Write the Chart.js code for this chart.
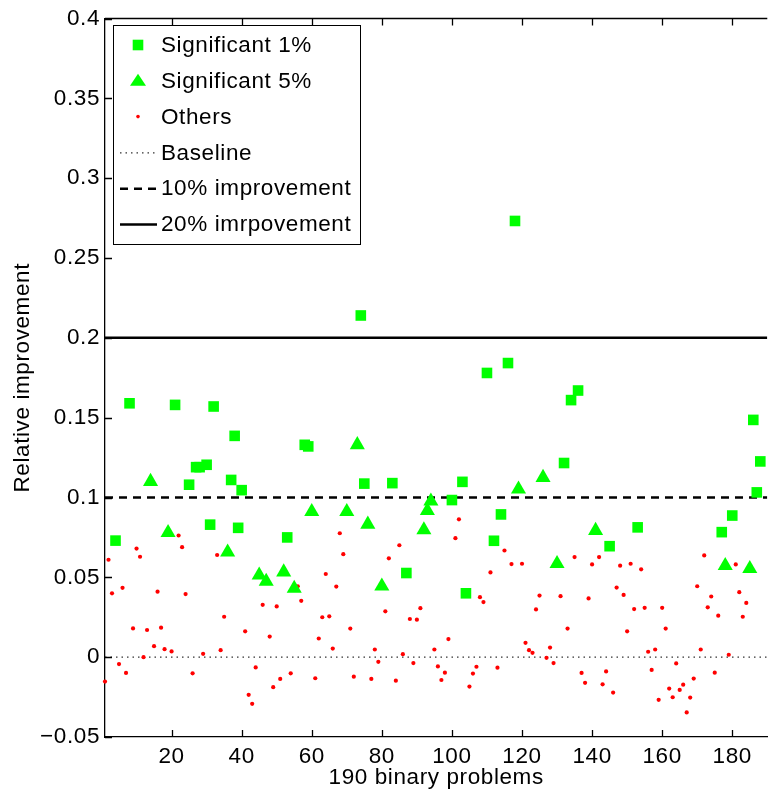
<!DOCTYPE html>
<html>
<head>
<meta charset="utf-8">
<script src="https://cdn.jsdelivr.net/npm/chart.js@4"></script>
<style>
  html, body { margin: 0; padding: 0; background: #fff; overflow: hidden; }
  canvas { display: block; }
</style>
</head>
<body>
<canvas id="myChart" width="776" height="794"></canvas>
<script>
// problems significant at the 1% level (squares)
const sig1Idx = [4, 8, 21, 25, 27, 28, 30, 31, 32, 37, 38, 39, 40, 53, 58, 59, 74, 75, 83, 87,
  100, 103, 104, 110, 112, 114, 116, 118, 132, 134, 136, 145, 153, 177, 180, 186, 187, 188];
const sig1Val = [0.073, 0.159, 0.158, 0.108, 0.119, 0.119, 0.1205, 0.083, 0.157, 0.111, 0.1386, 0.081, 0.1046, 0.075, 0.133, 0.132, 0.214, 0.1087, 0.109, 0.0527,
  0.0984, 0.1098, 0.040, 0.178, 0.0729, 0.0894, 0.1842, 0.2732, 0.1216, 0.161, 0.167, 0.0695, 0.0813, 0.0783, 0.0887, 0.1486, 0.1032, 0.1226];

// problems significant at the 5% level (triangles)
const sig5Idx = [14, 19, 36, 45, 47, 52, 55, 60, 70, 73, 76, 80, 92, 93, 94, 119, 126, 130, 141, 178, 185];
const sig5Val = [0.110, 0.078, 0.0658, 0.0513, 0.0475, 0.0533, 0.043, 0.0911, 0.0911, 0.133, 0.0832, 0.0444, 0.0797, 0.0917, 0.0977, 0.1052, 0.1125, 0.0585, 0.0793, 0.0573, 0.0554];

// everything else (red dots)
const othersIdx = [1, 2, 3, 5, 6, 7, 9, 10, 11, 12, 13, 15, 16, 17, 18, 20, 22, 23, 24, 26, 29, 33, 34, 35,
  41, 42, 43, 44, 46, 48, 49, 50, 51, 54, 56, 57, 61, 62, 63, 64, 65, 66, 67, 68, 69, 71, 72,
  77, 78, 79, 81, 82, 84, 85, 86, 88, 89, 90, 91, 95, 96, 97, 98, 99, 101, 102, 105, 106, 107, 108, 109,
  111, 113, 115, 117, 120, 121, 122, 123, 124, 125, 127, 128, 129, 131, 133, 135, 137, 138, 139, 140,
  142, 143, 144, 146, 147, 148, 149, 150, 151, 152, 154, 155, 156, 157, 158, 159, 160, 161, 162, 163,
  164, 165, 166, 167, 168, 169, 170, 171, 172, 173, 174, 175, 176, 179, 181, 182, 183, 184];
const othersVal = [-0.0153, 0.061, 0.040, -0.0043, 0.0434, -0.0099, 0.018, 0.068, 0.0629, 0.000, 0.017, 0.0069, 0.041, 0.0185, 0.005, 0.0036, 0.0762, 0.0689, 0.0395, -0.0101, 0.0021, 0.064, 0.0044, 0.0253,
  0.0162, -0.0236, -0.0292, -0.0064, 0.0328, 0.0129, -0.0188, 0.0318, -0.0136, -0.0101, 0.0444, 0.0353, -0.0132, 0.0117, 0.025, 0.0521, 0.0256, 0.0054, 0.0442, 0.0776, 0.0645, 0.0179, -0.0122,
  -0.0136, 0.0048, -0.0029, 0.0287, 0.0619, -0.0147, 0.0701, 0.0019, 0.0239, -0.0037, 0.0235, 0.0307, 0.0048, -0.0058, -0.0143, -0.0097, 0.0113, 0.0745, 0.0863, -0.0184, -0.0103, -0.006, 0.0376, 0.0345,
  0.0531, -0.0066, 0.0668, 0.0583, 0.0585, 0.009, 0.0044, 0.0027, 0.0299, 0.0386, -0.0004, 0.006, -0.0037, 0.0382, 0.0179, 0.0627, -0.0099, -0.0161, 0.0368, 0.0581,
  0.0627, -0.017, -0.0089, -0.0222, 0.0436, 0.0573, 0.039, 0.0162, 0.0585, 0.0301, 0.055, 0.0309, 0.0034, -0.008, 0.0048, -0.0267, 0.0309, 0.0179, -0.0197, -0.0251,
  -0.0039, -0.0205, -0.0172, -0.0346, -0.0253, -0.0134, 0.0444, 0.0048, 0.0637, 0.0312, 0.038, -0.0097, 0.026, 0.0015, 0.0581, 0.0407, 0.0253, 0.034];

// reference lines
const xRange = [1, 190];
const baselineLevel = 0;
const tenPctLevel = 0.1;
const twentyPctLevel = 0.2;

const xTicks = [20, 40, 60, 80, 100, 120, 140, 160, 180];
const yTicks = [-0.05, 0, 0.05, 0.1, 0.15, 0.2, 0.25, 0.3, 0.35, 0.4];

const legendLabels = ["Significant 1%", "Significant 5%", "Others", "Baseline", "10% improvement", "20% imrpovement"];

const GREEN = "#00ff00";
const RED = "#ff0000";
const FONT = '"Liberation Sans", Arial, sans-serif';

function toPoints(idx, vals) {
  return idx.map((x, i) => ({ x: x, y: vals[i] }));
}
function hLine(level) {
  return xRange.map((x) => ({ x: x, y: level }));
}

// matlab style: box on top, ticks pointing inwards, legend inside the axes
const matlabBox = {
  id: "matlabBox",
  beforeDraw(chart) {
    chart.ctx.letterSpacing = "0.6px";
  },
  afterDraw(chart) {
    const { ctx, chartArea: a, scales } = chart;
    const tl = 7;
    ctx.save();
    ctx.strokeStyle = "#000";
    ctx.lineWidth = 1.3;
    ctx.beginPath();
    ctx.moveTo(a.left, a.top);
    ctx.lineTo(a.right, a.top);
    xTicks.forEach((t) => {
      const px = Math.round(scales.x.getPixelForValue(t)) + 0.5;
      ctx.moveTo(px, a.bottom);
      ctx.lineTo(px, a.bottom - tl);
      ctx.moveTo(px, a.top);
      ctx.lineTo(px, a.top + tl);
    });
    yTicks.forEach((t) => {
      const py = Math.round(scales.y.getPixelForValue(t)) + 0.5;
      ctx.moveTo(a.left, py);
      ctx.lineTo(a.left + tl, py);
    });
    ctx.stroke();

    // legend
    const lx = 113, ly = 25, lw = 247, lh = 219;
    ctx.fillStyle = "#fff";
    ctx.fillRect(lx, ly, lw, lh);
    ctx.lineWidth = 1;
    ctx.strokeStyle = "#000";
    ctx.strokeRect(lx + 0.5, ly + 0.5, lw, lh);

    const mx = 138;
    legendLabels.forEach((label, i) => {
      const y = ly + 20 + i * 35.8;
      ctx.setLineDash([]);
      if (i === 0) {
        ctx.fillStyle = GREEN;
        ctx.fillRect(mx - 5.3, y - 5.3, 10.6, 10.6);
      } else if (i === 1) {
        ctx.fillStyle = GREEN;
        ctx.beginPath();
        ctx.moveTo(mx, y - 7);
        ctx.lineTo(mx + 8, y + 5);
        ctx.lineTo(mx - 8, y + 5);
        ctx.closePath();
        ctx.fill();
      } else if (i === 2) {
        ctx.fillStyle = RED;
        ctx.beginPath();
        ctx.arc(mx, y, 1.8, 0, Math.PI * 2);
        ctx.fill();
      } else {
        ctx.beginPath();
        if (i === 3) {
          ctx.strokeStyle = "#333";
          ctx.lineWidth = 1.2;
          ctx.setLineDash([1.5, 4]);
        } else if (i === 4) {
          ctx.strokeStyle = "#000";
          ctx.lineWidth = 2.5;
          ctx.setLineDash([8, 6]);
        } else {
          ctx.strokeStyle = "#000";
          ctx.lineWidth = 2.5;
        }
        ctx.moveTo(120, y + 0.5);
        ctx.lineTo(157, y + 0.5);
        ctx.stroke();
      }
      ctx.fillStyle = "#000";
      ctx.font = "22.5px " + FONT;
      ctx.textBaseline = "middle";
      ctx.textAlign = "left";
      ctx.fillText(label, 161, y + 1);
    });
    ctx.restore();
  },
};

Chart.defaults.font.family = FONT;
Chart.defaults.font.size = 22.5;
Chart.defaults.color = "#000";

const ctx = document.getElementById("myChart").getContext("2d");
new Chart(ctx, {
  type: "scatter",
  data: {
    datasets: [
      {
        label: legendLabels[0],
        data: toPoints(sig1Idx, sig1Val),
        pointStyle: "rect",
        pointRadius: 7.5,
        backgroundColor: GREEN,
        borderColor: GREEN,
        borderWidth: 0,
        clip: false,
      },
      {
        label: legendLabels[1],
        data: toPoints(sig5Idx, sig5Val),
        pointStyle: "triangle",
        pointRadius: 8.7,
        backgroundColor: GREEN,
        borderColor: GREEN,
        borderWidth: 0,
        clip: false,
      },
      {
        label: legendLabels[2],
        data: toPoints(othersIdx, othersVal),
        pointStyle: "circle",
        pointRadius: 2.1,
        backgroundColor: RED,
        borderColor: RED,
        borderWidth: 0,
        clip: false,
      },
      {
        type: "line",
        label: legendLabels[3],
        data: hLine(baselineLevel),
        borderColor: "#333",
        borderWidth: 1.2,
        borderDash: [1.5, 4],
        pointRadius: 0,
        showLine: true,
      },
      {
        type: "line",
        label: legendLabels[4],
        data: hLine(tenPctLevel),
        borderColor: "#000",
        borderWidth: 2.5,
        borderDash: [8, 6],
        pointRadius: 0,
        showLine: true,
      },
      {
        type: "line",
        label: legendLabels[5],
        data: hLine(twentyPctLevel),
        borderColor: "#000",
        borderWidth: 2.5,
        pointRadius: 0,
        showLine: true,
      },
    ],
  },
  options: {
    responsive: false,
    animation: false,
    layout: { padding: { left: 0, right: 1, top: 14, bottom: 0 } },
    plugins: {
      legend: { display: false },
      tooltip: { enabled: false },
    },
    scales: {
      x: {
        type: "linear",
        min: xRange[0],
        max: xRange[1],
        afterBuildTicks: (s) => { s.ticks = xTicks.map((v) => ({ value: v })); },
        afterFit: (s) => { s.height = 57; },
        grid: { display: false, drawTicks: false },
        border: { display: true, color: "#000", width: 1.3 },
        ticks: { padding: 6, maxRotation: 0, autoSkip: false },
        title: { display: true, text: "190 binary problems", padding: { top: 0, bottom: 3 } },
      },
      y: {
        type: "linear",
        min: -0.05,
        max: 0.4,
        afterBuildTicks: (s) => { s.ticks = yTicks.map((v) => ({ value: v })); },
        afterFit: (s) => { s.width = 105; },
        grid: { display: false, drawTicks: false },
        border: { display: true, color: "#000", width: 1.3 },
        ticks: {
          padding: 5,
          autoSkip: false,
          callback: (v) => {
            const s = String(parseFloat(v.toFixed(2)));
            return s.replace("-", "\u2212");
          },
        },
        title: { display: true, text: "Relative improvement", padding: { top: 9, bottom: 0 } },
      },
    },
  },
  plugins: [matlabBox],
});
</script>
</body>
</html>
